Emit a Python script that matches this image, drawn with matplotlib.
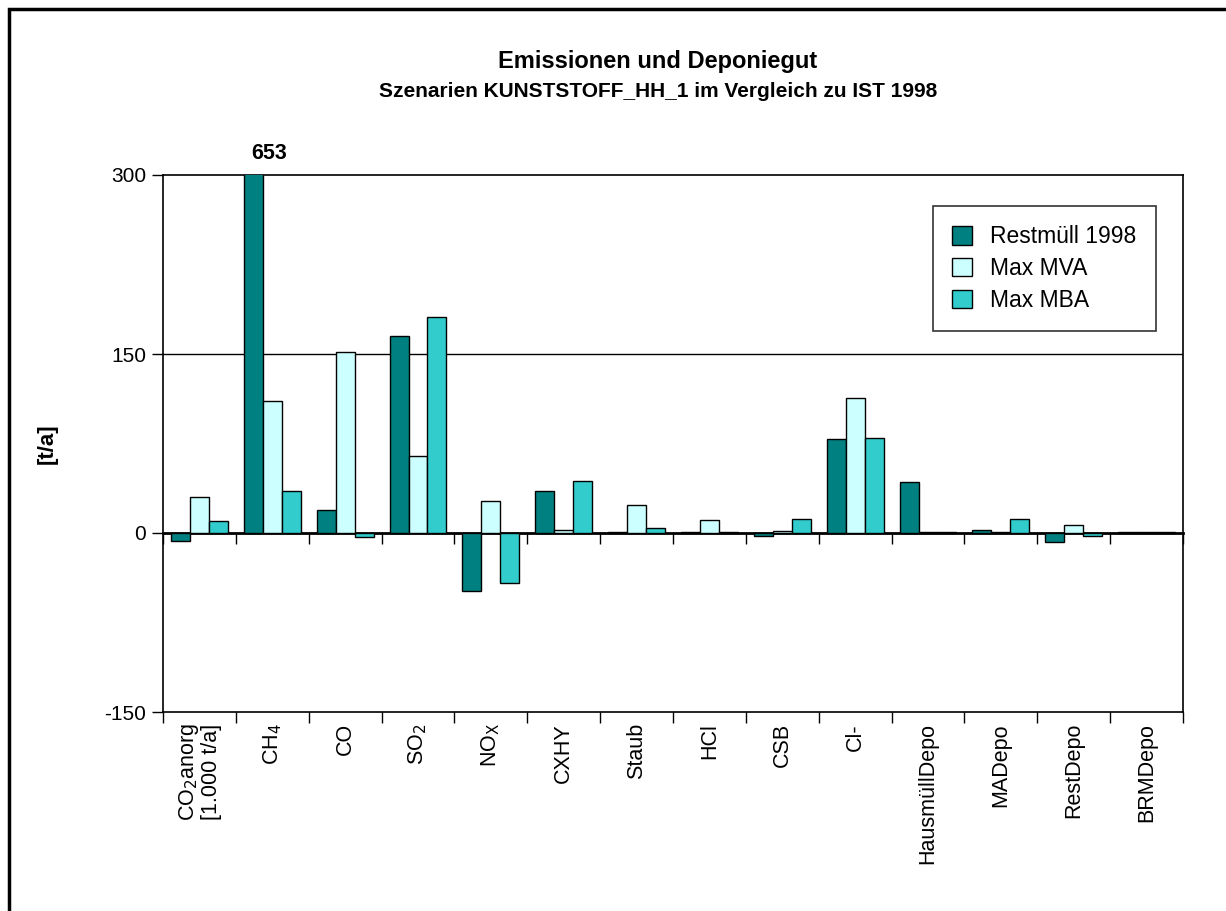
import numpy as np
import matplotlib
matplotlib.use("Agg")
import matplotlib.pyplot as plt
from matplotlib.patches import Rectangle

plt.rcParams['font.family'] = ['Liberation Sans', 'DejaVu Sans']

categories = ["CO$_2$anorg\n[1.000 t/a]", "CH$_4$", "CO", "SO$_2$", "NO$_\\mathrm{X}$", "CXHY", "Staub",
              "HCl", "CSB", "Cl-", "HausmüllDepo", "MADepo", "RestDepo", "BRMDepo"]
series_names = ["Restmüll 1998", "Max MVA", "Max MBA"]
restmuell = [-7, 653, 19, 165, -49, 35, 0.8, 0.5, -2.8, 79, 42.5, 2.5, -7.5, 0.5]
max_mva = [30, 111, 152, 64.5, 27, 2.5, 23.5, 11, 2, 113, 0.5, 0.5, 6.4, 0.5]
max_mba = [10, 35, -3, 181, -42, 43.6, 4.2, 0.5, 11.7, 79.3, 0.5, 11.7, -2.5, 0.5]
colors = ["#008080", "#CCFFFF", "#33CCCC"]
yticks = [-150, 0, 150, 300]
title = "Emissionen und Deponiegut"
subtitle = "Szenarien KUNSTSTOFF_HH_1 im Vergleich zu IST 1998"
ylabel = "[t/a]"

W, H = 1226, 911
fig = plt.figure(figsize=(W / 100, H / 100), dpi=100)
ax = fig.add_axes([163 / W, 1 - 712 / H, (1183 - 163) / W, (712 - 175) / H])

ymin, ymax = yticks[0], yticks[-1]
x = np.arange(len(categories))
bw = 0.26
for k, (vals, col, name) in enumerate(zip([restmuell, max_mva, max_mba], colors, series_names)):
    ax.bar(x + (k - 1) * bw, vals, width=bw, color=col, edgecolor="black", linewidth=1.0,
           label=name, zorder=3)
    for xi, v in zip(x, vals):
        if v > ymax:
            ax.annotate(f"{v:g}", xy=(xi, ymax), xytext=(-2, 8), textcoords="offset points",
                        ha="center", va="bottom", fontsize=15.5, fontweight="bold")

ax.set_xlim(-0.5, len(categories) - 0.5)
ax.set_ylim(ymin, ymax)
ax.set_yticks(yticks)
ax.set_yticklabels([str(t) for t in yticks], fontsize=15)
ax.tick_params(axis="y", direction="out", length=8, width=1, pad=4)
for yt in yticks[1:-1]:
    if yt != 0:
        ax.axhline(yt, color="black", lw=1.0, zorder=1)

bounds = np.arange(len(categories) + 1) - 0.5
ax.set_xticks(bounds)
ax.set_xticklabels([])
ax.tick_params(axis="x", which="major", direction="out", length=8, width=1)
ax.set_xticks(x, minor=True)
ax.set_xticklabels(categories, minor=True, rotation=90, fontsize=15.5, va="top", ha="center",
                   linespacing=1.0)
ax.tick_params(axis="x", which="minor", length=0, pad=8)

for s in ax.spines.values():
    s.set_linewidth(1.2)

sec = ax.secondary_xaxis((0 - ymin) / (ymax - ymin))
sec.set_xticks(bounds)
sec.set_xticklabels([])
sec.tick_params(axis="x", direction="out", length=8, width=1)
sec.spines["bottom"].set_linewidth(2)

leg = ax.legend(loc="upper right", bbox_to_anchor=(1156 / W, 1 - 206 / H),
                bbox_transform=fig.transFigure, frameon=True, fancybox=False,
                fontsize=16.5, handlelength=0.85, handleheight=0.85, labelspacing=0.38,
                handletextpad=0.8, borderpad=0.85, borderaxespad=0)
leg.get_frame().set_edgecolor("black")
leg.get_frame().set_linewidth(1.2)

fig.text(658 / W, 1 - 68 / H, title, ha="center", va="baseline", fontsize=17, fontweight="bold")
fig.text(658 / W, 1 - 97 / H, subtitle, ha="center", va="baseline", fontsize=15, fontweight="bold")
fig.text(47 / W, 1 - 444 / H, ylabel, ha="center", va="center", rotation=90,
         fontsize=16, fontweight="bold")

fig.add_artist(Rectangle((9 / W, -0.05), 1.2, 1 - 9 / H + 0.05, transform=fig.transFigure,
                         fill=False, edgecolor="black", linewidth=2.5, clip_on=False))

fig.savefig("out.png", dpi=100)
